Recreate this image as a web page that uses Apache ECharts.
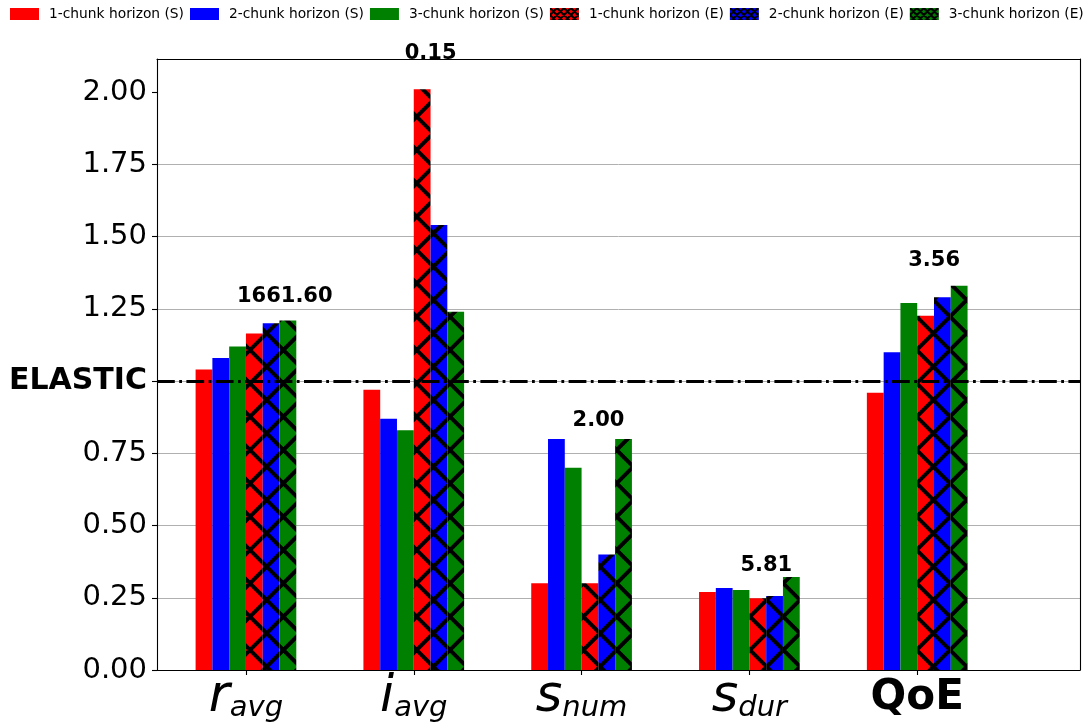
<!DOCTYPE html>
<html>
<head>
<meta charset="utf-8">
<script src="https://cdn.jsdelivr.net/npm/echarts@6/dist/echarts.min.js"></script>
<style>
  html, body { margin: 0; padding: 0; background: #fff; }
  #chart { width: 1087px; height: 724px; }
</style>
</head>
<body>
<div id="chart"></div>
<script>
// Metric names: main symbol and subscript
const metricBase = ['r', 'i', 's', 's', 'QoE'];
const metricSub = ['avg', 'avg', 'num', 'dur', ''];

const seriesNames = [
  '1-chunk horizon (S)', '2-chunk horizon (S)', '3-chunk horizon (S)',
  '1-chunk horizon (E)', '2-chunk horizon (E)', '3-chunk horizon (E)'
];

// Values normalised to the ELASTIC baseline (= 1.0)
const chunk1S = [1.04, 0.97, 0.30, 0.27, 0.96];
const chunk2S = [1.08, 0.87, 0.80, 0.284, 1.10];
const chunk3S = [1.12, 0.83, 0.70, 0.277, 1.27];
const chunk1E = [1.165, 2.01, 0.30, 0.248, 1.226];
const chunk2E = [1.20, 1.54, 0.40, 0.256, 1.29];
const chunk3E = [1.21, 1.24, 0.80, 0.322, 1.33];

// Absolute ELASTIC values printed above each group
const elasticValues = ['1661.60', '0.15', '2.00', '5.81', '3.56'];

const yTicks = [0, 0.25, 0.5, 0.75, 1.0, 1.25, 1.5, 1.75, 2.0];
const xTicks = [0, 1, 2, 3, 4];
const elasticLevel = 1.0;

const FONT = 'DejaVu Sans';
const colors = ['#ff0000', '#0000ff', '#008000'];

// Cross-hatch fill ('x' pattern): a square tile holding three diagonal periods
function hatch(color, size, lineWidth) {
  const step = size / 3, pad = size * 0.2;
  const cv = document.createElement('canvas');
  cv.width = size; cv.height = size;
  const g = cv.getContext('2d');
  g.fillStyle = color;
  g.fillRect(0, 0, size, size);
  g.strokeStyle = '#000';
  g.lineWidth = lineWidth;
  g.beginPath();
  for (let k = -4; k <= 4; k++) {
    const c = k * step;
    g.moveTo(c - pad, -pad); g.lineTo(c + size + pad, size + pad);
  }
  for (let k = -1; k <= 8; k++) {
    const c = k * step;
    g.moveTo(c + pad, -pad); g.lineTo(c - size - pad, size + pad);
  }
  g.stroke();
  return { image: cv, repeat: 'repeat' };
}

const groups = [chunk1S, chunk2S, chunk3S, chunk1E, chunk2E, chunk3E];
const groupMax = xTicks.map(i => Math.max(...groups.map(g => g[i])));

const barSeries = groups.map((vals, s) => ({
  name: seriesNames[s],
  type: 'bar',
  barWidth: '10%',
  barGap: '0%',
  itemStyle: { color: s < 3 ? colors[s] : hatch(colors[s - 3], 100, 4) },
  data: vals.map((v, i) => [i, v])
}));

barSeries[0].markLine = {
  silent: true,
  symbol: ['none', 'none'],
  label: { show: false },
  lineStyle: { color: '#000', width: 2.8, type: [17.8, 4.4, 2.8, 4.4], cap: 'butt' },
  data: [{ yAxis: elasticLevel }],
  z: 10
};

// Group annotations: text baseline sits at 1.05 x the tallest bar
const labelSeries = {
  type: 'custom',
  silent: true,
  z: 20,
  data: groupMax.map((m, i) => [i, m * 1.05]),
  renderItem: (params, api) => {
    const pt = api.coord([api.value(0), api.value(1)]);
    return {
      type: 'text',
      x: pt[0] - 9,
      y: pt[1] + 4,
      style: {
        text: elasticValues[params.dataIndex],
        fill: '#000',
        font: 'bold 21px "DejaVu Sans"',
        align: 'left',
        verticalAlign: 'bottom'
      }
    };
  }
};

// Legend swatches use a finer hatch
const legendData = seriesNames.map((name, s) => ({
  name,
  itemStyle: { color: s < 3 ? colors[s] : hatch(colors[s - 3], 21, 2) }
}));

const chart = echarts.init(document.getElementById('chart'), null, { renderer: 'canvas' });
chart.setOption({
  animation: false,
  backgroundColor: '#fff',
  legend: {
    data: legendData,
    left: 10,
    top: 7,
    padding: 0,
    itemWidth: 29,
    itemHeight: 12,
    itemGap: 6,
    icon: 'rect',
    textStyle: { fontFamily: FONT, fontSize: 13.8, color: '#000', padding: [0, 0, 0, 5] }
  },
  grid: { left: 157, right: 7, top: 59, bottom: 54, containLabel: false, outerBoundsMode: 'none' },
  xAxis: [{
    type: 'value',
    min: -0.53,
    max: 4.97,
    splitLine: { show: false },
    axisLine: { show: true, onZero: false, lineStyle: { color: '#000', width: 1.1 } },
    axisTick: { show: true, customValues: xTicks, length: 5, lineStyle: { color: '#000', width: 1.1 } },
    axisLabel: {
      customValues: xTicks,
      margin: 2,
      color: '#000',
      formatter: v => {
        const i = Math.round(v);
        if (!metricSub[i]) return '{q|' + metricBase[i] + '}';
        return '{m|' + metricBase[i] + '}{s|' + metricSub[i] + '}';
      },
      rich: {
        m: { fontFamily: FONT, fontStyle: 'italic', fontSize: 51, lineHeight: 51, verticalAlign: 'top', color: '#000' },
        s: { fontFamily: FONT, fontStyle: 'italic', fontSize: 29, lineHeight: 29, padding: [22, 0, 0, 0], verticalAlign: 'top', color: '#000' },
        q: { fontFamily: FONT, fontWeight: 'bold', fontSize: 42, lineHeight: 42, padding: [10, 0, 0, 0], color: '#000' }
      }
    }
  }, {
    type: 'value',
    position: 'top',
    min: -0.53,
    max: 4.97,
    splitLine: { show: false },
    axisTick: { show: false },
    axisLabel: { show: false },
    axisLine: { show: true, onZero: false, lineStyle: { color: '#000', width: 1.1 } }
  }],
  yAxis: [{
    type: 'value',
    min: 0,
    max: 2.115,
    interval: 0.25,
    axisLine: { show: true, onZero: false, lineStyle: { color: '#000', width: 1.1 } },
    axisTick: { show: true, customValues: yTicks, length: 5, lineStyle: { color: '#000', width: 1.1 } },
    splitLine: { show: true, showMaxLine: false, lineStyle: { color: '#b0b0b0', width: 1 } },
    axisLabel: {
      customValues: yTicks,
      margin: 10,
      fontFamily: FONT,
      fontSize: 29,
      color: '#000',
      formatter: v => Math.abs(v - elasticLevel) < 1e-9 ? '{b|ELASTIC}' : v.toFixed(2),
      rich: { b: { fontFamily: FONT, fontWeight: 'bold', fontSize: 30, color: '#000' } }
    }
  }, {
    type: 'value',
    position: 'right',
    min: 0,
    max: 2.115,
    splitLine: { show: false },
    axisTick: { show: false },
    axisLabel: { show: false },
    axisLine: { show: true, onZero: false, lineStyle: { color: '#000', width: 1.1 } }
  }],
  series: [...barSeries, labelSeries]
});
</script>
</body>
</html>
